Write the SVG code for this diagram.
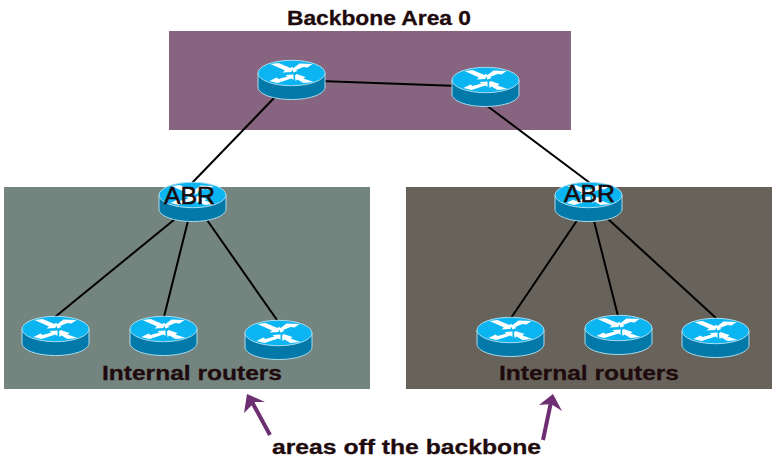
<svg xmlns="http://www.w3.org/2000/svg" xmlns:xlink="http://www.w3.org/1999/xlink" width="778" height="466" viewBox="0 0 778 466">
<style>
.t{font-family:"Liberation Sans",Arial,sans-serif;font-weight:bold;fill:#1f0b0d;stroke:#1f0b0d;stroke-width:.3}
.l{font-family:"Liberation Sans",Arial,sans-serif;fill:#1a0a0c;stroke:#1a0a0c;stroke-width:.6}
.c line{stroke:#000;stroke-width:2;fill:none}
.a{fill:#6e2f72}
.as{stroke:#6e2f72;stroke-width:4;fill:none}
</style>
<defs>
<g id="router">
<path d="M0.5 13V27C0.5 34 15 39.5 34 39.5S67.5 34 67.5 27V13Z" fill="#0379a9" stroke="#a8dcee" stroke-width="1"/>
<ellipse cx="34" cy="13" rx="33.5" ry="12.7" fill="#0bb5f2" stroke="#a8dcee" stroke-width="1"/>
<path fill="#fff" d="M13 4 L21 3 L33 8 L35 6.500 L34 12 L25 12.500 L27.500 10.500 Z"/>
<path fill="#fff" d="M55 4 L42 3.500 L36 8 L33.500 7 L36 12.500 L40 11 L38.500 10 L46 7 L50 7.500 Z"/>
<path fill="#fff" d="M12 21 L20 23 L34 18.500 L36 20 L36 14.500 L28 15 L30 16.500 L21 19 L19 17.500 Z"/>
<path fill="#fff" d="M39 14 L37.500 15.500 L38 21 L40 19.500 L46 23 L56 22 L46 18.500 L48 17 Z"/>
</g>
</defs>
<rect width="778" height="466" fill="#fff"/>
<rect id="area0" x="169" y="31" width="402" height="99" fill="#87647f"/>
<rect id="area1" x="4" y="187" width="366" height="202" fill="#74847e"/>
<rect id="area2" x="406" y="187" width="366" height="202" fill="#67635a"/>
<g id="connectors" class="c">
<line x1="292" y1="80" x2="486" y2="87"/>
<line x1="275" y1="97" x2="192" y2="183"/>
<line x1="486" y1="105" x2="590" y2="183"/>
<line x1="175" y1="219" x2="55" y2="317"/>
<line x1="188" y1="221" x2="164" y2="317"/>
<line x1="207" y1="220" x2="277" y2="320"/>
<line x1="578" y1="219" x2="511" y2="318"/>
<line x1="594" y1="221" x2="618" y2="316"/>
<line x1="608" y1="219" x2="716" y2="318"/>
</g>
<g id="r1"><use xlink:href="#router" href="#router" x="257.500" y="60"/></g>
<g id="r2"><use xlink:href="#router" href="#router" x="451.500" y="67"/></g>
<g id="abr1"><use xlink:href="#router" href="#router" x="158.500" y="182"/><text class="l" x="164" y="204" font-size="24" textLength="51" lengthAdjust="spacingAndGlyphs">ABR</text></g>
<g id="abr2"><use xlink:href="#router" href="#router" x="554.500" y="182"/><text class="l" x="564" y="202" font-size="24" textLength="51" lengthAdjust="spacingAndGlyphs">ABR</text></g>
<g id="i1"><use xlink:href="#router" href="#router" x="21.500" y="316"/></g>
<g id="i2"><use xlink:href="#router" href="#router" x="129.500" y="316"/></g>
<g id="i3"><use xlink:href="#router" href="#router" x="244.500" y="320"/></g>
<g id="i4"><use xlink:href="#router" href="#router" x="476.500" y="317"/></g>
<g id="i5"><use xlink:href="#router" href="#router" x="584.500" y="315"/></g>
<g id="i6"><use xlink:href="#router" href="#router" x="681.500" y="318"/></g>
<text class="t" x="287" y="25" font-size="21" textLength="184" lengthAdjust="spacingAndGlyphs">Backbone Area 0</text>
<text class="t" x="102" y="380" font-size="21" textLength="180" lengthAdjust="spacingAndGlyphs">Internal routers</text>
<text class="t" x="499" y="380" font-size="21" textLength="180" lengthAdjust="spacingAndGlyphs">Internal routers</text>
<text class="t" x="272" y="454" font-size="21" textLength="269" lengthAdjust="spacingAndGlyphs">areas off the backbone</text>
<g id="arrows">
<line class="as" x1="270" y1="435" x2="252" y2="402"/>
<path class="a" d="M247 394 L265 402 L255 402 L244 413 Z"/>
<line class="as" x1="543" y1="440" x2="551" y2="402"/>
<path class="a" d="M553 394 L562 411 L551 404 L539 405 Z"/>
</g>
</svg>
